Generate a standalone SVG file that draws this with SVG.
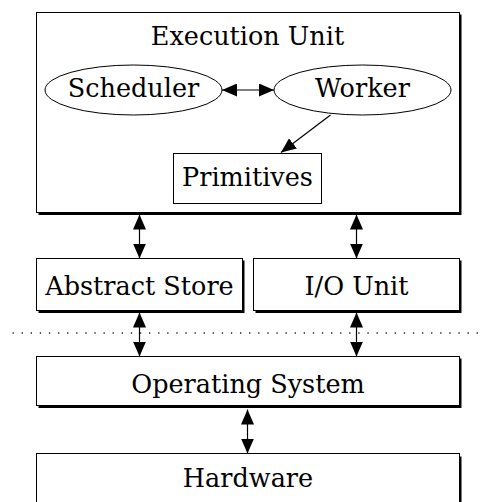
<svg xmlns="http://www.w3.org/2000/svg" width="484" height="502" viewBox="0 0 484 502">
<style>
text{font-family:"DejaVu Serif","Liberation Serif",serif;font-size:25.5px;fill:#000;text-anchor:middle}
.box{fill:#fff;stroke:#000;stroke-width:1}
.shadow{fill:#000;stroke:none}
.edge{stroke:#000;stroke-width:1.2;fill:none}
.dots{stroke:#222;stroke-width:1.3;stroke-dasharray:1.3 7.8}
</style>
<defs>
<marker id="ah" viewBox="0 0 15 13" refX="15" refY="6.5" markerWidth="15" markerHeight="13" markerUnits="userSpaceOnUse" orient="auto-start-reverse">
<path d="M0,0 L15,6.5 L0,13 z" fill="#000"/>
</marker>
</defs>
<rect width="484" height="502" fill="#fff"/>
<line class="dots" x1="12.5" y1="333" x2="484" y2="333"/>
<g id="execution-unit">
<rect class="shadow" x="38.5" y="14.5" width="423" height="200.5"/>
<rect class="box" x="36.5" y="12.5" width="423" height="200"/>
<text x="247.5" y="45">Execution Unit</text>
</g>
<g id="scheduler">
<ellipse class="box" cx="133.5" cy="90" rx="88.5" ry="25"/>
<text x="133.5" y="97">Scheduler</text>
</g>
<g id="worker">
<ellipse class="box" cx="362.5" cy="90" rx="88.5" ry="25"/>
<text x="362.5" y="97">Worker</text>
</g>
<g id="primitives">
<rect class="box" x="173.5" y="153.5" width="148" height="50"/>
<text x="247.5" y="186">Primitives</text>
</g>
<g id="abstract-store">
<rect class="shadow" x="38.5" y="260.5" width="206" height="52.5"/>
<rect class="box" x="36.5" y="258.5" width="206" height="52"/>
<text x="139.5" y="295">Abstract Store</text>
</g>
<g id="io-unit">
<rect class="shadow" x="255.5" y="260.5" width="206" height="52.5"/>
<rect class="box" x="253.5" y="258.5" width="206" height="52"/>
<text x="356.5" y="295">I/O Unit</text>
</g>
<g id="operating-system">
<rect class="shadow" x="38.5" y="358.5" width="423" height="49.5"/>
<rect class="box" x="36.5" y="356.5" width="423" height="49"/>
<text x="248" y="393">Operating System</text>
</g>
<g id="hardware">
<rect class="shadow" x="38.5" y="456.5" width="423" height="60"/>
<rect class="box" x="36.5" y="453.5" width="423" height="60"/>
<text x="248" y="487">Hardware</text>
</g>
<g id="connectors">
<line class="edge" x1="222" y1="90" x2="274" y2="90" marker-start="url(#ah)" marker-end="url(#ah)"/>
<line class="edge" x1="330.5" y1="115" x2="281" y2="152.5" marker-end="url(#ah)"/>
<line class="edge" x1="139.5" y1="214.5" x2="139.5" y2="258.5" marker-start="url(#ah)" marker-end="url(#ah)"/>
<line class="edge" x1="356.5" y1="214.5" x2="356.5" y2="258.5" marker-start="url(#ah)" marker-end="url(#ah)"/>
<line class="edge" x1="139.5" y1="312.5" x2="139.5" y2="356.5" marker-start="url(#ah)" marker-end="url(#ah)"/>
<line class="edge" x1="356.5" y1="312.5" x2="356.5" y2="356.5" marker-start="url(#ah)" marker-end="url(#ah)"/>
<line class="edge" x1="247.5" y1="409.5" x2="247.5" y2="453.5" marker-start="url(#ah)" marker-end="url(#ah)"/>
</g>
</svg>
